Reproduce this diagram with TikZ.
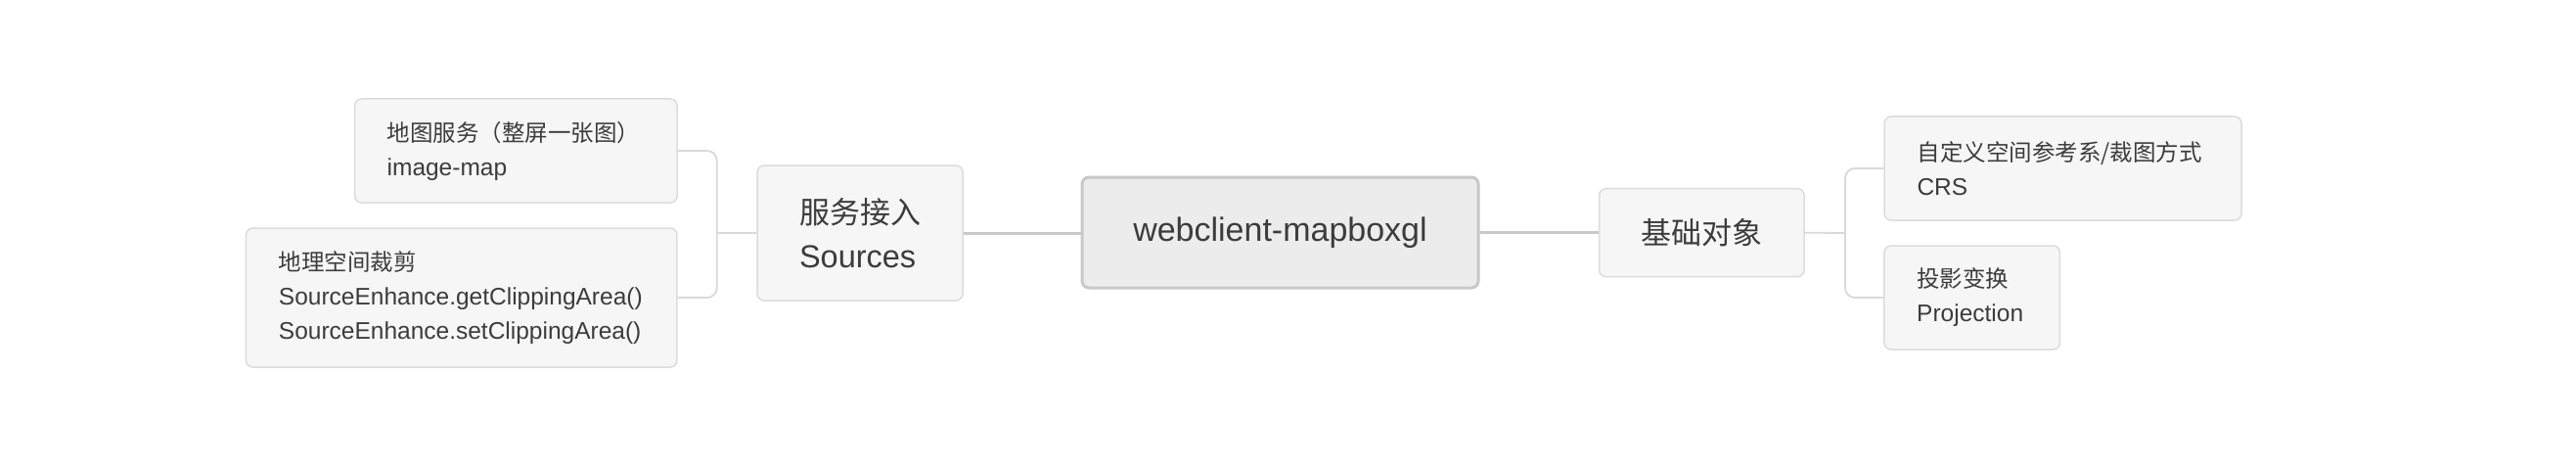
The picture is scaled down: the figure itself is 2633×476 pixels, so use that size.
\documentclass[tikz,border=0pt]{standalone}
\usepackage{fontspec}
\setmainfont{Liberation Sans}
\newfontfamily\cjk{Noto Sans CJK SC}
\newcommand\zhsmall{\cjk\fontsize{23.5}{35}\selectfont}
\newcommand\zhbig{\cjk\fontsize{31}{45}\selectfont}
\definecolor{txt}{HTML}{3C3C3C}
\definecolor{leaffill}{HTML}{F6F6F6}
\definecolor{leafborder}{HTML}{DCDCDC}
\definecolor{rootfill}{HTML}{ECECEC}
\definecolor{rootborder}{HTML}{C8C8C8}
\definecolor{linecol}{HTML}{C8C8C8}
\definecolor{brcol}{HTML}{D9D9D9}
\tikzset{
  leaf/.style={draw=leafborder, fill=leaffill, line width=1.5pt, rounded corners=7pt,
    align=left, inner xsep=0pt, inner ysep=0pt, text=txt, anchor=center,
    font=\fontsize{24.5}{35}\selectfont},
  midbox/.style={leaf, font=\fontsize{32.5}{45}\selectfont},
  rootbox/.style={draw=rootborder, fill=rootfill, line width=3pt, rounded corners=7pt,
    inner sep=0pt, text=txt, anchor=center, font=\fontsize{34}{40}\selectfont},
  mainline/.style={draw=linecol, line width=3pt},
  brline/.style={draw=brcol, line width=1.8pt}
}
\begin{document}
\begin{tikzpicture}[x=1pt,y=-1pt]
\useasboundingbox[fill=white] (0,0) rectangle (2633,476);
% root
\node[rootbox, minimum width=405pt, minimum height=113pt] (R) at (1308.5,237.5) {webclient-mapboxgl};
% left branch
\node[midbox, minimum width=210pt, minimum height=138pt] (S) at (879,238) {{\zhbig 服务接入}\\Sources};
\node[leaf, minimum width=329.5pt, minimum height=106pt, text width=263.5pt] (A) at (527.4,154)
  {{\zhsmall 地图服务（整屏一张图）}\\image-map};
\node[leaf, minimum width=440.5pt, minimum height=142pt, text width=373.5pt] (B) at (471.7,304)
  {{\zhsmall 地理空间裁剪}\\SourceEnhance.getClippingArea()\\SourceEnhance.setClippingArea()};
% right branch
\node[midbox, minimum width=209.5pt, minimum height=90pt] (J) at (1739.3,237.7) {\zhbig 基础对象};
\node[leaf, minimum width=365pt, minimum height=106pt, text width=298pt] (C) at (2108.5,172)
  {{\zhsmall 自定义空间参考系/裁图方式}\\CRS};
\node[leaf, minimum width=179.5pt, minimum height=106pt, text width=113pt] (P) at (2015.7,304)
  {{\zhsmall 投影变换}\\Projection};
% connectors
\draw[mainline] (S.east) -- (S.east -| R.west);
\draw[mainline] (R.east) -- (R.east -| J.west);
\coordinate (jl) at (732.7,238);
\draw[brline] (S.west) -- (jl);
\draw[brline, rounded corners=10pt] (A.east) -| (jl) |- (B.east);
\coordinate (jr) at (1886,238);
\draw[brline] (J.east) -- (jr);
\draw[brline, rounded corners=10pt] (C.west) -| (jr) |- (P.west);
\end{tikzpicture}
\end{document}
